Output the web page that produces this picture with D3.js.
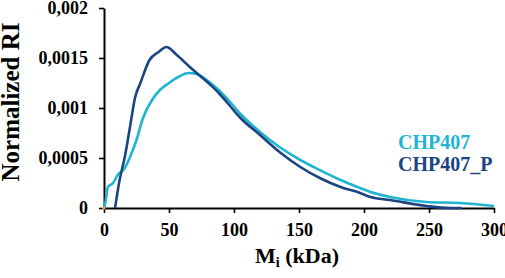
<!DOCTYPE html>
<html>
<head>
<meta charset="utf-8">
<script src="https://cdn.jsdelivr.net/npm/d3@7"></script>
<style>
  body { margin: 0; background: #fff; }
  text { font-family: "Liberation Serif", "Times New Roman", serif; font-weight: bold; }
</style>
</head>
<body>
<svg id="chart" width="505" height="278"></svg>
<script>
// values
const seriesNames = ["CHP407", "CHP407_P"];
const chpX = [0, 1, 3, 7, 11, 15, 20, 25, 30, 37, 43, 50, 57, 65, 71, 82, 89, 97, 105, 120, 135, 151, 166, 182, 197, 205, 220, 248, 274, 300];
const chpY = [0, 0.00005, 0.00021, 0.00025, 0.00034, 0.00038, 0.00051, 0.00068, 0.00090, 0.00108, 0.00118, 0.00125, 0.00131, 0.00135, 0.00134, 0.00125, 0.00117, 0.00106, 0.00094, 0.00076, 0.00061, 0.00048, 0.00038, 0.00028, 0.0002, 0.00016, 0.00011, 0.00006, 0.00005, 0.00002];
const chpPX = [8.5, 12, 16, 20, 24, 28, 35, 42, 48, 56, 66, 82, 89, 97, 105, 120, 135, 151, 166, 182, 197, 205, 220, 248, 266, 275];
const chpPY = [0, 0.00028, 0.00051, 0.00081, 0.00111, 0.00125, 0.00148, 0.00156, 0.00161, 0.00153, 0.00141, 0.00123, 0.00114, 0.00102, 0.0009, 0.00073, 0.00056, 0.00041, 0.0003, 0.00021, 0.00015, 0.00011, 0.00008, 0.00002, 0, 0];
const xTicks = [0, 50, 100, 150, 200, 250, 300];
const yTicks = [0, 0.0005, 0.001, 0.0015, 0.002];
const yTickLabels = ["0", "0,0005", "0,001", "0,0015", "0,002"];

const colors = ["#1fb4cf", "#1b4582"];

const svg = d3.select("#chart");
const x = d3.scaleLinear().domain([0, 300]).range([104, 494]);
const y = d3.scaleLinear().domain([0, 0.002]).range([208, 8]);

// axes
const xAxis = svg.append("g").attr("transform", "translate(0,208)")
  .call(d3.axisBottom(x).tickValues(xTicks).tickSize(5).tickSizeOuter(0).tickPadding(10));
const yAxis = svg.append("g").attr("transform", "translate(104,0)")
  .call(d3.axisLeft(y).tickValues(yTicks).tickSize(5).tickSizeOuter(0).tickPadding(11)
    .tickFormat((d, i) => yTickLabels[i]));

[xAxis, yAxis].forEach(g => {
  g.select(".domain").attr("stroke", "#000").attr("stroke-width", 2);
  g.selectAll(".tick line").attr("stroke", "#000").attr("stroke-width", 1.6);
  g.selectAll(".tick text").attr("font-size", 18).attr("fill", "#000")
    .attr("font-family", "Liberation Serif").attr("font-weight", "bold");
});

// lines
const line = d3.line().x(d => x(d[0])).y(d => y(d[1])).curve(d3.curveMonotoneX);
const series = [d3.zip(chpX, chpY), d3.zip(chpPX, chpPY)];

svg.selectAll("path.series").data(series).enter().append("path")
  .attr("class", "series")
  .attr("d", line)
  .attr("fill", "none")
  .attr("stroke", (d, i) => colors[i])
  .attr("stroke-width", 2.6)
  .attr("stroke-linejoin", "round");

// tiny orange marker at origin
svg.append("circle").attr("cx", x(0)).attr("cy", y(0)).attr("r", 1.6).attr("fill", "#f0a040");

// legend
svg.selectAll("text.legend").data(seriesNames).enter().append("text")
  .attr("class", "legend")
  .attr("x", 398)
  .attr("y", (d, i) => 149 + i * 21.5)
  .attr("font-size", 20)
  .attr("fill", (d, i) => colors[i])
  .text(d => d);

// axis titles
const xt = svg.append("text").attr("x", 297).attr("y", 263)
  .attr("text-anchor", "middle").attr("font-size", 22).attr("fill", "#000");
xt.append("tspan").text("M");
xt.append("tspan").attr("font-size", 14).attr("dy", 4).text("i");
xt.append("tspan").attr("dy", -4).text(" (kDa)");

svg.append("text")
  .attr("transform", "translate(19,102) rotate(-90)")
  .attr("text-anchor", "middle").attr("font-size", 25).attr("fill", "#000")
  .text("Normalized RI");
</script>
</body>
</html>
